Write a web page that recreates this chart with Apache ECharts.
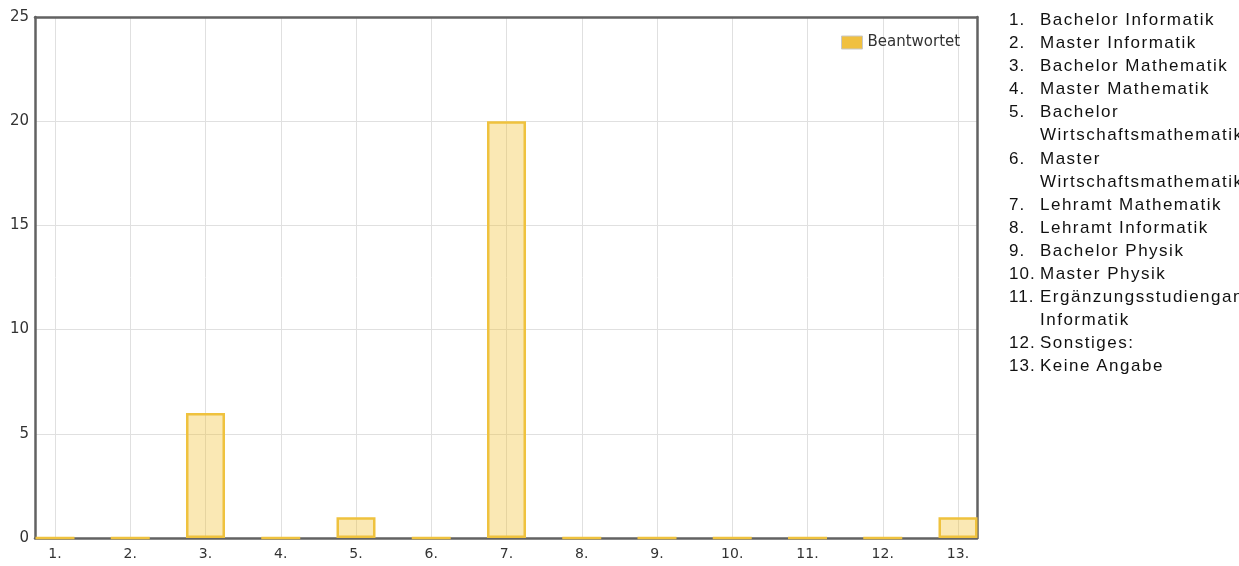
<!DOCTYPE html>
<html>
<head>
<meta charset="utf-8">
<script src="https://cdn.jsdelivr.net/npm/echarts@6/dist/echarts.min.js"></script>
<style>
  html, body { margin: 0; padding: 0; width: 1239px; height: 566px; overflow: hidden; background: #fff; }
  #chart { position: absolute; left: 0; top: 0; width: 1239px; height: 566px; }
  #list { position: absolute; left: 1009px; top: 8px; font-family: "Liberation Sans", Arial, sans-serif;
          font-size: 17px; letter-spacing: 1.5px; color: #111; line-height: 23.1px; margin: 0; padding: 0; list-style: none; }
  #list li { position: relative; padding-left: 31px; width: 215px; white-space: normal; }
  #list li .num { position: absolute; left: 0; top: 0; letter-spacing: 1px; }
  #list li .txt { white-space: nowrap; }
</style>
</head>
<body>
<div id="chart"></div>
<ul id="list"></ul>
<script>
// ---- data ----
const categories = ['1.', '2.', '3.', '4.', '5.', '6.', '7.', '8.', '9.', '10.', '11.', '12.', '13.'];
const answered = [0, 0, 6, 0, 1, 0, 20, 0, 0, 0, 0, 0, 1];
const seriesName = 'Beantwortet';
const programs = [
  ['Bachelor Informatik'],
  ['Master Informatik'],
  ['Bachelor Mathematik'],
  ['Master Mathematik'],
  ['Bachelor', 'Wirtschaftsmathematik'],
  ['Master', 'Wirtschaftsmathematik'],
  ['Lehramt Mathematik'],
  ['Lehramt Informatik'],
  ['Bachelor Physik'],
  ['Master Physik'],
  ['Ergänzungsstudiengang', 'Informatik'],
  ['Sonstiges:'],
  ['Keine Angabe']
];
const yTicks = { min: 0, max: 25, interval: 5 };

// ---- side list ----
const ul = document.getElementById('list');
programs.forEach((lines, i) => {
  const li = document.createElement('li');
  const num = document.createElement('span');
  num.className = 'num';
  num.textContent = categories[i];
  li.appendChild(num);
  lines.forEach((t, j) => {
    if (j > 0) li.appendChild(document.createElement('br'));
    const s = document.createElement('span');
    s.className = 'txt';
    s.textContent = t;
    li.appendChild(s);
  });
  ul.appendChild(li);
});

// ---- chart ----
const chart = echarts.init(document.getElementById('chart'), null, { renderer: 'canvas' });
const labelFont = 'DejaVu Sans, Verdana, sans-serif';
const frameLine = { show: true, onZero: false, lineStyle: { color: '#626262', width: 2.5 } };
chart.setOption({
  animation: false,
  legend: {
    left: 836, top: 30,
    itemWidth: 21, itemHeight: 13, itemGap: 12,
    textStyle: { fontFamily: labelFont, fontSize: 15, color: '#333' },
    itemStyle: { borderColor: '#c8c8c8', borderWidth: 1 },
    data: [{ name: seriesName, icon: 'rect', itemStyle: { color: '#f0c040', borderColor: '#c8c8c8', borderWidth: 1 } }]
  },
  grid: [
    { left: 35, right: 262, top: 17, bottom: 28, show: false },
    { left: 55, right: 281, top: 17, bottom: 28, show: false }
  ],
  xAxis: [
    { gridIndex: 0, type: 'value', min: 0, max: 1, position: 'bottom', axisLine: frameLine, axisTick: { show: false }, axisLabel: { show: false }, splitLine: { show: false } },
    { gridIndex: 0, type: 'value', min: 0, max: 1, position: 'top', axisLine: frameLine, axisTick: { show: false }, axisLabel: { show: false }, splitLine: { show: false } },
    {
      gridIndex: 1, type: 'category', data: categories, boundaryGap: false,
      axisLine: { show: false }, axisTick: { show: false },
      axisLabel: { fontFamily: labelFont, fontSize: 14, color: '#333', margin: 9, interval: 0 },
      splitLine: { show: true, interval: 0, lineStyle: { color: '#e0e0e0', width: 1 } }
    }
  ],
  yAxis: [
    {
      gridIndex: 0, type: 'value', min: yTicks.min, max: yTicks.max, interval: yTicks.interval, position: 'left',
      axisLine: frameLine, axisTick: { show: false },
      axisLabel: { fontFamily: labelFont, fontSize: 15, color: '#333', margin: 6 },
      splitLine: { show: true, lineStyle: { color: '#e0e0e0', width: 1 } }
    },
    { gridIndex: 0, type: 'value', min: yTicks.min, max: yTicks.max, position: 'right', axisLine: frameLine, axisTick: { show: false }, axisLabel: { show: false }, splitLine: { show: false } },
    { gridIndex: 1, type: 'value', min: yTicks.min, max: yTicks.max, interval: yTicks.interval, show: false, splitLine: { show: false } }
  ],
  series: [{
    name: seriesName,
    type: 'bar',
    xAxisIndex: 2, yAxisIndex: 2,
    data: answered,
    barWidth: 39,
    clip: false,
    z: 5,
    itemStyle: { color: 'rgba(240,192,48,0.36)', borderColor: '#efc23e', borderWidth: 2.5 }
  }]
});
</script>
</body>
</html>
